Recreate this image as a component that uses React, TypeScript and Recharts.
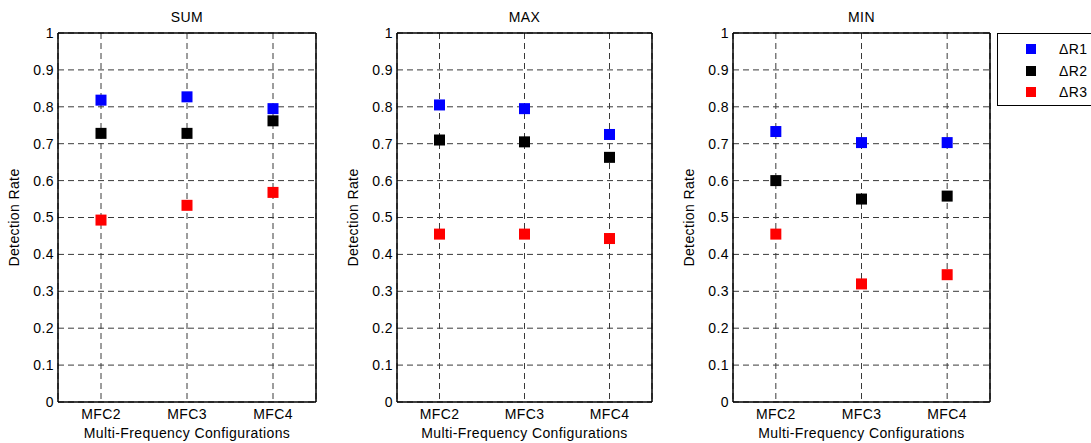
import React from 'react';
import { ComposedChart, Scatter, XAxis, YAxis, CartesianGrid, Legend } from 'recharts';

const categories = ['MFC2', 'MFC3', 'MFC4'];
const yTicks = [0, 0.1, 0.2, 0.3, 0.4, 0.5, 0.6, 0.7, 0.8, 0.9, 1];

const sumR1 = [0.818, 0.827, 0.795];
const sumR2 = [0.728, 0.728, 0.762];
const sumR3 = [0.493, 0.533, 0.568];

const maxR1 = [0.805, 0.795, 0.725];
const maxR2 = [0.71, 0.705, 0.663];
const maxR3 = [0.455, 0.455, 0.443];

const minR1 = [0.733, 0.703, 0.703];
const minR2 = [0.6, 0.55, 0.558];
const minR3 = [0.455, 0.32, 0.345];

const seriesNames = ['\u0394R1', '\u0394R2', '\u0394R3'];
const seriesColors = ['#0000ff', '#000000', '#ff0000'];

const buildRows = (r1: number[], r2: number[], r3: number[]) =>
  categories.map((name, i) => ({ name, r1: r1[i], r2: r2[i], r3: r3[i] }));

const panels = [
  { title: 'SUM', rows: buildRows(sumR1, sumR2, sumR3), left: 0, plotWidth: 258, legend: false },
  { title: 'MAX', rows: buildRows(maxR1, maxR2, maxR3), left: 339, plotWidth: 255, legend: false },
  { title: 'MIN', rows: buildRows(minR1, minR2, minR3), left: 675, plotWidth: 257, legend: true },
];

const font = '"Liberation Sans", Arial, sans-serif';
const FS = 14;
const LS = 0.4;
const Y_AXIS_W = 50;
const MARGIN_L = 8;

const txt = { fill: '#000', fontSize: FS, fontFamily: font, letterSpacing: LS };

// matlab-style filled square marker
const Square = (props: any) => {
  const { cx, cy, fill } = props;
  if (cx == null || cy == null) return null;
  return <rect x={cx - 5.5} y={cy - 5.5} width={11} height={11} fill={fill} />;
};

// legend box runs off the right edge of the figure, like the original
const LegendBox = () => (
  <div
    style={{
      width: 150,
      height: 71,
      border: '1.5px solid #000',
      background: '#fff',
      position: 'relative',
      fontFamily: font,
      fontSize: FS,
      letterSpacing: LS,
    }}
  >
    {seriesNames.map((n, i) => (
      <div key={n} style={{ position: 'absolute', left: 0, top: 15 + i * 21.5 - 8, height: 16, width: 110 }}>
        <div style={{ position: 'absolute', left: 28, top: 3, width: 10, height: 10, background: seriesColors[i] }} />
        <div style={{ position: 'absolute', left: 61, top: 0, lineHeight: '16px', color: '#000' }}>{n}</div>
      </div>
    ))}
  </div>
);

const Panel = ({ title, rows, left, plotWidth, legend }: any) => {
  const width = legend ? 1091 - left : MARGIN_L + Y_AXIS_W + plotWidth + 10;
  const rightMargin = width - (MARGIN_L + Y_AXIS_W + plotWidth) - 1;
  return (
    <div style={{ position: 'absolute', left, top: 0 }}>
      <ComposedChart
        width={width}
        height={443}
        data={rows}
        margin={{ top: 32, right: rightMargin, bottom: 1, left: MARGIN_L }}
      >
        <CartesianGrid stroke="#3a3a3a" strokeDasharray="6 4" strokeWidth={1} />
        <XAxis
          dataKey="name"
          type="category"
          scale="band"
          height={40}
          tickLine={false}
          tickSize={0}
          tickMargin={7}
          axisLine={{ stroke: '#000', strokeWidth: 1.5 }}
          tick={txt}
          label={{ value: 'Multi-Frequency Configurations', position: 'insideBottom', offset: 4, ...txt }}
        />
        {/* top + right axes only close the box */}
        <XAxis
          xAxisId="top"
          dataKey="name"
          type="category"
          scale="band"
          orientation="top"
          height={1}
          tick={false}
          tickLine={false}
          axisLine={{ stroke: '#000', strokeWidth: 1.5 }}
          label={{ value: title, position: 'top', offset: 10, ...txt }}
        />
        <YAxis
          type="number"
          domain={[0, 1]}
          ticks={yTicks}
          width={Y_AXIS_W}
          tickLine={false}
          tickSize={0}
          tickMargin={4}
          interval={0}
          axisLine={{ stroke: '#000', strokeWidth: 1.5 }}
          tick={txt}
          label={{
            value: 'Detection Rate',
            angle: -90,
            position: 'insideLeft',
            offset: 6,
            ...txt,
            style: { textAnchor: 'middle' },
          }}
        />
        <YAxis
          yAxisId="right"
          orientation="right"
          type="number"
          domain={[0, 1]}
          width={1}
          tick={false}
          tickLine={false}
          axisLine={{ stroke: '#000', strokeWidth: 1.5 }}
        />
        {seriesNames.map((n, i) => (
          <Scatter
            key={n}
            name={n}
            dataKey={`r${i + 1}`}
            fill={seriesColors[i]}
            shape={Square}
            isAnimationActive={false}
          />
        ))}
        {legend && (
          <Legend
            layout="vertical"
            align="center"
            verticalAlign="middle"
            content={() => <LegendBox />}
            wrapperStyle={{ position: 'absolute', left: 997 - left, top: 33, width: 160, margin: 0 }}
          />
        )}
      </ComposedChart>
    </div>
  );
};

export default function App() {
  return (
    <div
      style={{
        position: 'fixed',
        left: 0,
        top: 0,
        width: 1091,
        height: 443,
        overflow: 'hidden',
        background: '#fff',
        fontFamily: font,
      }}
    >
      {panels.map((p) => (
        <Panel key={p.title} {...p} />
      ))}
    </div>
  );
}
